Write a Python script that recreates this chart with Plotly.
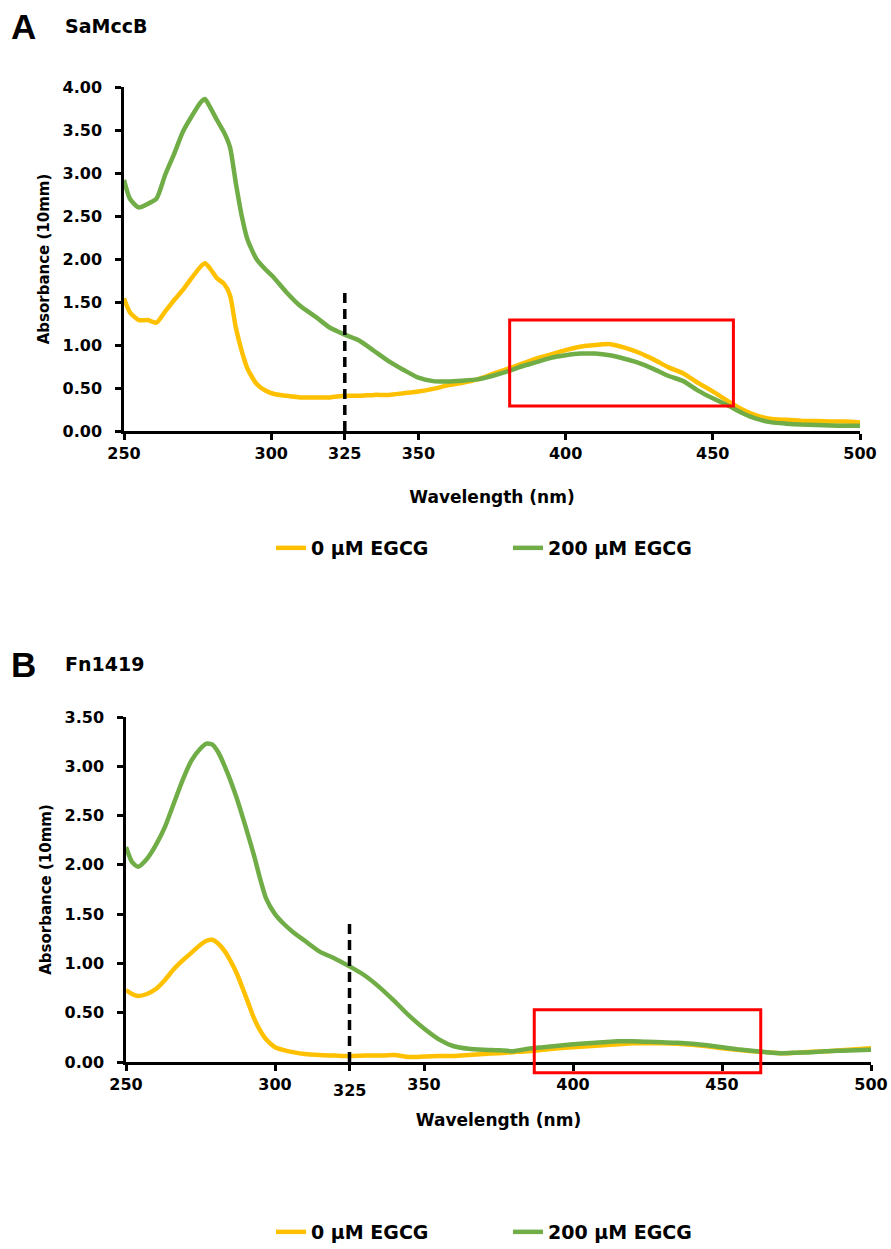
import plotly.graph_objects as go

# ---- Panel A: SaMccB ----
wl_a = [250, 252, 255, 258, 261, 264, 267, 270, 273, 276, 277.5, 279, 281.5, 284, 286, 288,
        290, 292, 295, 298, 301, 305, 310, 315, 320, 325, 330, 335, 340, 345, 350, 355, 360,
        365, 370, 375, 380, 385, 390, 395, 400, 405, 410, 415, 420, 425, 430, 435, 440, 445,
        450, 455, 460, 465, 470, 475, 480, 485, 490, 495, 500]
a_0uM = [1.54, 1.38, 1.29, 1.29, 1.26, 1.39, 1.52, 1.64, 1.78, 1.91, 1.95, 1.90, 1.78, 1.71,
         1.58, 1.20, 0.93, 0.72, 0.55, 0.47, 0.43, 0.41, 0.39, 0.39, 0.39, 0.41, 0.41, 0.42,
         0.42, 0.44, 0.46, 0.49, 0.53, 0.56, 0.60, 0.66, 0.72, 0.78, 0.84, 0.89, 0.94, 0.98,
         1.00, 1.01, 0.97, 0.91, 0.83, 0.74, 0.67, 0.56, 0.46, 0.35, 0.25, 0.18, 0.14, 0.13,
         0.12, 0.115, 0.11, 0.11, 0.10]
a_200uM = [2.92, 2.70, 2.60, 2.64, 2.70, 2.98, 3.22, 3.48, 3.66, 3.82, 3.86, 3.78, 3.62, 3.47,
           3.30, 2.88, 2.50, 2.22, 2.00, 1.88, 1.78, 1.62, 1.45, 1.33, 1.20, 1.12, 1.05, 0.93,
           0.81, 0.71, 0.62, 0.58, 0.575, 0.585, 0.60, 0.64, 0.69, 0.75, 0.80, 0.85, 0.88,
           0.90, 0.90, 0.88, 0.84, 0.79, 0.72, 0.64, 0.58, 0.47, 0.38, 0.30, 0.21, 0.14, 0.10,
           0.085, 0.075, 0.07, 0.065, 0.06, 0.06]

# ---- Panel B: Fn1419 ----
wl_b = [250, 252, 254, 257, 260, 263, 266, 269, 272, 275, 277, 279, 281, 283, 285, 287, 289,
        291, 293, 295, 297, 300, 303, 306, 310, 315, 320, 325, 330, 335, 340, 345, 350, 355,
        360, 365, 370, 375, 380, 385, 390, 395, 400, 405, 410, 415, 420, 425, 430, 435, 440,
        445, 450, 455, 460, 465, 470, 475, 480, 485, 490, 495, 500]
b_0uM = [0.73, 0.69, 0.67, 0.69, 0.74, 0.83, 0.94, 1.03, 1.11, 1.19, 1.23, 1.24, 1.20, 1.13,
         1.03, 0.91, 0.76, 0.60, 0.44, 0.32, 0.23, 0.15, 0.12, 0.10, 0.08, 0.07, 0.065, 0.06,
         0.065, 0.065, 0.07, 0.05, 0.055, 0.06, 0.06, 0.07, 0.08, 0.09, 0.10, 0.11, 0.125,
         0.14, 0.15, 0.16, 0.17, 0.18, 0.19, 0.19, 0.19, 0.185, 0.175, 0.16, 0.14, 0.125,
         0.11, 0.10, 0.09, 0.095, 0.105, 0.11, 0.12, 0.13, 0.14]
b_200uM = [2.18, 2.03, 1.98, 2.06, 2.20, 2.38, 2.62, 2.86, 3.06, 3.18, 3.23, 3.22, 3.14, 3.01,
           2.86, 2.69, 2.50, 2.30, 2.09, 1.86, 1.66, 1.50, 1.40, 1.32, 1.23, 1.12, 1.05, 0.97,
           0.88, 0.76, 0.62, 0.47, 0.34, 0.23, 0.16, 0.135, 0.125, 0.12, 0.11, 0.135, 0.15,
           0.165, 0.18, 0.19, 0.20, 0.21, 0.21, 0.205, 0.20, 0.195, 0.185, 0.17, 0.15, 0.13,
           0.115, 0.10, 0.09, 0.095, 0.10, 0.11, 0.115, 0.12, 0.125]

series_names = ["0 µM EGCG", "200 µM EGCG"]
x_ticks = [250, 300, 325, 350, 400, 450, 500]

# reference wavelength marker and highlighted band (wavelength, absorbance)
marker_wl = 325
marker_top_a = 1.66
marker_top_b = 1.42
box_a = dict(x0=381, x1=457, y0=0.29, y1=1.29)
box_b = dict(x0=387, x1=463, y0=-0.11, y1=0.53)

Y_MAX_A = 4.0
Y_MAX_B = 3.5
X_MIN, X_MAX = 250, 500

YELLOW = "#FFC000"
GREEN = "#70AD47"
FONT = "DejaVu Sans"

fig = go.Figure()

for wl, ys, xa, ya, leg in [(wl_a, [a_0uM, a_200uM], "x", "y", "legend"),
                            (wl_b, [b_0uM, b_200uM], "x2", "y2", "legend2")]:
    for name, vals, col in zip(series_names, ys, [YELLOW, GREEN]):
        fig.add_trace(go.Scatter(x=wl, y=vals, mode="lines", name=name,
                                 line=dict(color=col, width=4.5, shape="spline", smoothing=0.6),
                                 xaxis=xa, yaxis=ya, legend=leg))

axis_common = dict(showgrid=False, zeroline=False, showline=True, linecolor="black",
                   linewidth=2.5, ticks="outside", ticklen=6, tickwidth=2.5, tickcolor="black",
                   automargin=False,
                   tickfont=dict(family=FONT, size=16, color="black", weight="bold"))

title_font_x = dict(family=FONT, size=17, color="black", weight="bold")
title_font_y = dict(family=FONT, size=15, color="black", weight="bold")

W, H = 891, 1249
fig.update_layout(
    width=W, height=H, autosize=False,
    margin=dict(l=0, r=0, t=0, b=0, autoexpand=False),
    paper_bgcolor="white", plot_bgcolor="white",
    xaxis=dict(domain=[124 / W, 860 / W], anchor="y", range=[X_MIN, X_MAX],
               tickvals=x_ticks, ticktext=[str(v) for v in x_ticks],
               title=dict(text="Wavelength (nm)", font=title_font_x, standoff=30),
               **axis_common),
    yaxis=dict(domain=[1 - 431 / H, 1 - 87 / H], anchor="x", range=[0, Y_MAX_A],
               dtick=0.5, tickformat=".2f", ticklabelstandoff=10,
               title=dict(text="Absorbance (10mm)", font=title_font_y, standoff=10),
               **axis_common),
    xaxis2=dict(domain=[126 / W, 871 / W], anchor="y2", range=[X_MIN, X_MAX],
                tickvals=x_ticks, ticktext=[("" if v == marker_wl else str(v)) for v in x_ticks],
                title=dict(text="Wavelength (nm)", font=title_font_x, standoff=22),
                **axis_common),
    yaxis2=dict(domain=[1 - 1062 / H, 1 - 717 / H], anchor="x2", range=[0, Y_MAX_B],
                dtick=0.5, tickformat=".2f", ticklabelstandoff=10,
                title=dict(text="Absorbance (10mm)", font=title_font_y, standoff=10),
                **axis_common),
    legend=dict(orientation="h", x=271 / W, xanchor="left", y=1 - 548 / H, yanchor="middle",
                entrywidth=192, entrywidthmode="pixels",
                font=dict(family=FONT, size=19, color="black", weight="bold"),
                bgcolor="rgba(0,0,0,0)"),
    legend2=dict(orientation="h", x=271 / W, xanchor="left", y=1 - 1232 / H, yanchor="middle",
                 entrywidth=192, entrywidthmode="pixels",
                 font=dict(family=FONT, size=19, color="black", weight="bold"),
                 bgcolor="rgba(0,0,0,0)"),
    showlegend=True,
)

# dashed marker lines at 325 nm
for xa, ya, top in [("x", "y", marker_top_a), ("x2", "y2", marker_top_b)]:
    fig.add_shape(type="line", xref=xa, yref=ya, x0=marker_wl, x1=marker_wl, y0=0, y1=top,
                  line=dict(color="black", width=3.5, dash="10px,6px"), layer="above")

# highlighted boxes (domain refs so the box may extend past the axis line)
for box, xd, yd, ymax in [(box_a, "x domain", "y domain", Y_MAX_A),
                          (box_b, "x2 domain", "y2 domain", Y_MAX_B)]:
    fig.add_shape(type="rect", xref=xd, yref=yd,
                  x0=(box["x0"] - X_MIN) / (X_MAX - X_MIN), x1=(box["x1"] - X_MIN) / (X_MAX - X_MIN),
                  y0=box["y0"] / ymax, y1=box["y1"] / ymax,
                  line=dict(color="#FF0000", width=3), fillcolor="rgba(0,0,0,0)", layer="above")

# the 325 label of panel B sits a little lower than its neighbours
fig.add_annotation(x=marker_wl, xref="x2", y=1 - 1090 / H, yref="paper", text="325",
                   showarrow=False, xanchor="center", yanchor="middle",
                   font=dict(family=FONT, size=16, color="black", weight="bold"))

# panel letters and titles
for letter, title, ytop in [("A", "SaMccB", 26), ("B", "Fn1419", 664)]:
    fig.add_annotation(x=9 / W, y=1 - ytop / H, xref="paper", yref="paper", text=letter,
                       showarrow=False, xanchor="left", yanchor="middle",
                       font=dict(family="Liberation Sans", size=35, color="black", weight="bold"))
    fig.add_annotation(x=63 / W, y=1 - ytop / H, xref="paper", yref="paper", text=title,
                       showarrow=False, xanchor="left", yanchor="middle",
                       font=dict(family=FONT, size=19, color="black", weight="bold"))

fig.write_html("out.html")
